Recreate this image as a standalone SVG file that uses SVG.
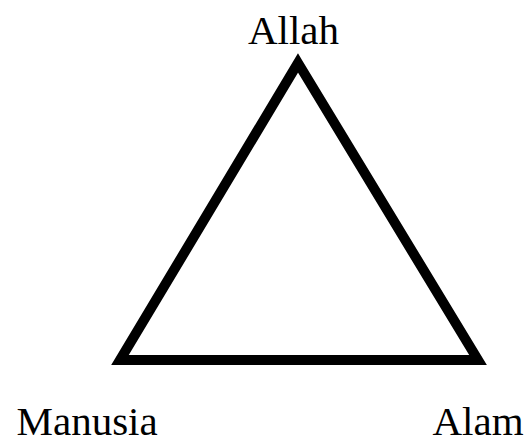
<svg xmlns="http://www.w3.org/2000/svg" width="530" height="444" viewBox="0 0 530 444">
<style>
.lbl{font-family:"Liberation Serif","Times New Roman",serif;font-size:41px;fill:#000}
.edge{fill:none;stroke:#000;stroke-width:10;stroke-linejoin:miter;stroke-miterlimit:10}
</style>
<rect width="530" height="444" fill="#fff"/>
<g id="connectors">
<path class="edge" d="M298,63 L478,360 L120,360 Z"/>
</g>
<g id="node-allah"><text class="lbl" x="293.5" y="44" text-anchor="middle">Allah</text></g>
<g id="node-manusia"><text class="lbl" x="16.5" y="435">Manusia</text></g>
<g id="node-alam"><text class="lbl" x="432.5" y="435">Alam</text></g>
</svg>
